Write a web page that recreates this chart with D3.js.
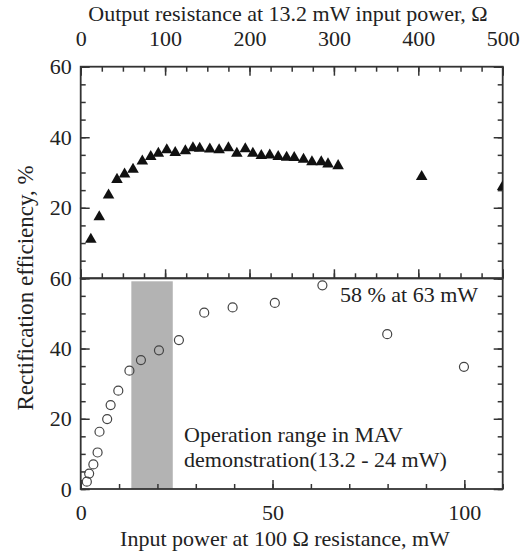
<!DOCTYPE html>
<html><head><meta charset="utf-8">
<script src="https://cdn.jsdelivr.net/npm/d3@7"></script>
<style>
html,body{margin:0;padding:0;background:#fff;}
svg text{font-family:"Liberation Serif","Times New Roman",serif;fill:#222;}
</style></head>
<body><div id="chart"></div>
<script>
// Top panel: output resistance (Ω) vs rectification efficiency (%)
const resistance = [12,22,33,43,52,62,73,83,92,102,112,124,133,141,153,164,175,185,195,204,214,224,234,244,253,264,274,285,293,305,404,500];
const effTop =     [11.0,17.4,23.6,28.0,29.5,30.9,33.2,34.5,35.4,36.4,35.6,36.1,37.0,36.8,36.6,36.4,37.0,35.4,36.7,35.4,34.8,34.9,34.5,34.3,34.2,33.7,33.0,33.0,32.4,31.9,28.8,26.0];
// Bottom panel: input power (mW) vs rectification efficiency (%)
const power =    [1.6,2.2,3.3,4.4,4.9,6.9,7.8,9.8,12.7,15.7,20.4,25.6,32.2,39.6,50.6,63.0,79.9,99.9];
const effBot =   [2.1,4.4,7.0,10.4,16.3,19.9,23.9,28.0,33.7,36.7,39.5,42.4,50.2,51.7,53.0,58.0,44.1,34.8];
const opRange = [13.2, 24];
const topTicks = [0,100,200,300,400,500];
const bottomTicks = [0,50,100];
const yTicksTop = [20,40,60];
const yTicksBot = [0,20,40,60];

const W = 522, H = 552;
const L = 80.7, R = 502.7, T = 66.7, M = 278.3, B = 489;
const svg = d3.select("#chart").append("svg").attr("width", W).attr("height", H);

const xTop = d3.scaleLinear().domain([0,500]).range([L,R]);
const xBot = d3.scaleLinear().domain([0,110]).range([L,R]);
const yTop = d3.scaleLinear().domain([0,60]).range([M,T]);
const yBot = d3.scaleLinear().domain([0,60]).range([B,M]);

const axisColor = "#333";
function styleAxis(g){
  g.select(".domain").remove();
  g.selectAll(".tick line").attr("stroke", axisColor).attr("stroke-width", 1.5);
  g.selectAll("text").attr("font-size", 22).attr("fill", "#222");
}
const minor = (a, b, s) => d3.range(a, b + 1e-9, s);

// clip for top panel
svg.append("clipPath").attr("id","clipTop").append("rect").attr("x",L).attr("y",T).attr("width",R-L).attr("height",M-T);
svg.append("clipPath").attr("id","clipBot").append("rect").attr("x",L).attr("y",M).attr("width",R-L).attr("height",B-M);

// shaded operation range
svg.append("rect")
  .attr("x", xBot(opRange[0])).attr("width", xBot(opRange[1]) - xBot(opRange[0]))
  .attr("y", yBot(60) + 3).attr("height", yBot(0) - yBot(60) - 3)
  .attr("fill", "#b3b3b3");

// Top panel axes
// top edge (labels above, ticks inward)
svg.append("g").attr("transform",`translate(0,${T})`)
  .call(d3.axisTop(xTop).tickValues(minor(0,500,25)).tickSize(-5).tickFormat("")).call(styleAxis);
svg.append("g").attr("transform",`translate(0,${T})`)
  .call(d3.axisTop(xTop).tickValues(topTicks).tickSize(-9).tickPadding(21).tickFormat(d3.format("d"))).call(styleAxis);
// bottom edge of top panel (ticks upward)
svg.append("g").attr("transform",`translate(0,${M})`)
  .call(d3.axisBottom(xTop).tickValues(minor(0,500,25)).tickSize(-5).tickFormat("")).call(styleAxis);
svg.append("g").attr("transform",`translate(0,${M})`)
  .call(d3.axisBottom(xTop).tickValues(topTicks).tickSize(-9).tickFormat("")).call(styleAxis);
// left/right of top panel
svg.append("g").attr("transform",`translate(${L},0)`)
  .call(d3.axisLeft(yTop).tickValues(minor(0,60,5)).tickSize(-5).tickFormat("")).call(styleAxis);
svg.append("g").attr("transform",`translate(${L},0)`)
  .call(d3.axisLeft(yTop).tickValues(yTicksTop).tickSize(-9).tickPadding(9).tickFormat(d3.format("d"))).call(styleAxis);
svg.append("g").attr("transform",`translate(${R},0)`)
  .call(d3.axisRight(yTop).tickValues(minor(0,60,5)).tickSize(-5).tickFormat("")).call(styleAxis);
svg.append("g").attr("transform",`translate(${R},0)`)
  .call(d3.axisRight(yTop).tickValues([0,20,40,60]).tickSize(-9).tickFormat("")).call(styleAxis);

// Bottom panel axes
svg.append("g").attr("transform",`translate(0,${B})`)
  .call(d3.axisBottom(xBot).tickValues(minor(0,110,10)).tickSize(-5).tickFormat("")).call(styleAxis);
svg.append("g").attr("transform",`translate(0,${B})`)
  .call(d3.axisBottom(xBot).tickValues(bottomTicks).tickSize(-9).tickPadding(15).tickFormat(d3.format("d"))).call(styleAxis);
svg.append("g").attr("transform",`translate(${L},0)`)
  .call(d3.axisLeft(yBot).tickValues(minor(0,60,5)).tickSize(-5).tickFormat("")).call(styleAxis);
svg.append("g").attr("transform",`translate(${L},0)`)
  .call(d3.axisLeft(yBot).tickValues(yTicksBot).tickSize(-9).tickPadding(9).tickFormat(d3.format("d"))).call(styleAxis);
svg.append("g").attr("transform",`translate(${R},0)`)
  .call(d3.axisRight(yBot).tickValues(minor(0,60,5)).tickSize(-5).tickFormat("")).call(styleAxis);
svg.append("g").attr("transform",`translate(${R},0)`)
  .call(d3.axisRight(yBot).tickValues([0,20,40,60]).tickSize(-9).tickFormat("")).call(styleAxis);

// frames
svg.append("rect").attr("x",L).attr("y",T).attr("width",R-L).attr("height",M-T)
  .attr("fill","none").attr("stroke",axisColor).attr("stroke-width",1.8);
svg.append("rect").attr("x",L).attr("y",M).attr("width",R-L).attr("height",B-M)
  .attr("fill","none").attr("stroke",axisColor).attr("stroke-width",1.8);

// top panel triangles
const tri = d3.symbol().type(d3.symbolTriangle).size(58);
svg.append("g").attr("clip-path","url(#clipTop)")
  .selectAll("path").data(resistance.map((r,i)=>({x:r,y:effTop[i]}))).join("path")
  .attr("d", tri)
  .attr("transform", d => `translate(${xTop(d.x)},${yTop(d.y)})`)
  .attr("fill", "#111");

// bottom panel circles
svg.append("g")
  .selectAll("circle").data(power.map((p,i)=>({x:p,y:effBot[i]}))).join("circle")
  .attr("cx", d => xBot(d.x)).attr("cy", d => yBot(d.y)).attr("r", 4.5)
  .attr("fill", "none").attr("stroke", "#444").attr("stroke-width", 1.2);

// annotations
svg.append("text").attr("x", 340).attr("y", 301.7).attr("font-size", 22).text("58 % at 63 mW");
svg.append("text").attr("x", 184).attr("y", 441.7).attr("font-size", 22).text("Operation range in MAV");
svg.append("text").attr("x", 184).attr("y", 466.7).attr("font-size", 22).text("demonstration(13.2 - 24 mW)");

// axis titles
svg.append("text").attr("x", 288).attr("y", 20.7).attr("text-anchor","middle").attr("font-size", 22)
  .text("Output resistance at 13.2 mW input power, \u03A9");
svg.append("text").attr("x", 285).attr("y", 546).attr("text-anchor","middle").attr("font-size", 22)
  .text("Input power at 100 \u03A9 resistance, mW");
svg.append("text").attr("transform","translate(33,288) rotate(-90)").attr("text-anchor","middle").attr("font-size", 23)
  .text("Rectification efficiency, %");
</script></body></html>
